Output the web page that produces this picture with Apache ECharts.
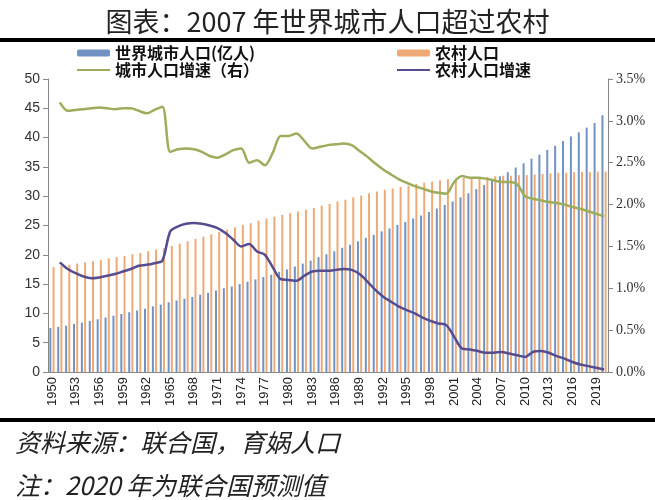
<!DOCTYPE html>
<html><head><meta charset="utf-8">
<script src="https://cdn.jsdelivr.net/npm/echarts@6/dist/echarts.min.js"></script>
<style>html,body{margin:0;padding:0;background:#fff}#c{width:655px;height:500px}</style>
</head><body><div id="c"></div>
<script>
const years = [];
for (let y = 1950; y <= 2020; y++) years.push(String(y));

const urbanPop = [
  7.5, 7.7, 7.9, 8.2, 8.4, 8.7, 9.0, 9.3, 9.6, 9.9,
  10.2, 10.5, 10.8, 11.2, 11.5, 11.9, 12.2, 12.5, 12.8, 13.2,
  13.5, 13.9, 14.3, 14.6, 15.0, 15.4, 15.8, 16.2, 16.6, 17.1,
  17.5, 18.0, 18.5, 19.0, 19.6, 20.1, 20.6, 21.2, 21.7, 22.3,
  22.9, 23.4, 24.0, 24.5, 25.1, 25.6, 26.2, 26.7, 27.3, 27.9,
  28.5, 29.1, 29.8, 30.5, 31.2, 31.9, 32.6, 33.4, 34.1, 34.9,
  35.6, 36.4, 37.1, 37.9, 38.6, 39.4, 40.2, 40.9, 41.7, 42.5,
  43.8
];
const ruralPop = [
  17.9, 18.1, 18.3, 18.5, 18.7, 18.9, 19.1, 19.4, 19.6, 19.8,
  20.1, 20.3, 20.6, 20.9, 21.1, 21.5, 21.9, 22.3, 22.7, 23.1,
  23.5, 23.9, 24.3, 24.7, 25.1, 25.4, 25.8, 26.2, 26.5, 26.8,
  27.1, 27.4, 27.7, 28.0, 28.4, 28.7, 29.1, 29.4, 29.8, 30.1,
  30.5, 30.8, 31.1, 31.3, 31.6, 31.8, 32.1, 32.3, 32.5, 32.7,
  32.9, 33.0, 33.1, 33.2, 33.3, 33.3, 33.4, 33.5, 33.5, 33.6,
  33.6, 33.7, 33.8, 33.9, 34.0, 34.0, 34.1, 34.1, 34.1, 34.2,
  34.2
];
const urbanGrowth = [
  null, 3.22, 3.12, 3.13, 3.14, 3.15, 3.16, 3.15, 3.14, 3.15,
  3.15, 3.12, 3.09, 3.13, 3.17, 2.63, 2.66, 2.67, 2.66, 2.63,
  2.58, 2.56, 2.60, 2.65, 2.67, 2.50, 2.53, 2.47, 2.62, 2.82,
  2.82, 2.85, 2.76, 2.67, 2.69, 2.71, 2.72, 2.73, 2.71, 2.64,
  2.57, 2.49, 2.42, 2.36, 2.30, 2.26, 2.22, 2.19, 2.16, 2.14,
  2.13, 2.27, 2.34, 2.32, 2.32, 2.31, 2.29, 2.27, 2.27, 2.24,
  2.10, 2.07, 2.05, 2.03, 2.02, 2.00, 1.97, 1.95, 1.92, 1.89,
  1.86
];
const ruralGrowth = [
  null, 1.31, 1.23, 1.18, 1.14, 1.12, 1.13, 1.15, 1.17, 1.20,
  1.23, 1.27, 1.28, 1.30, 1.33, 1.68, 1.74, 1.77, 1.78, 1.77,
  1.75, 1.72, 1.66, 1.58, 1.50, 1.53, 1.44, 1.40, 1.25, 1.11,
  1.10, 1.09, 1.15, 1.20, 1.21, 1.21, 1.22, 1.23, 1.22, 1.17,
  1.08, 0.98, 0.90, 0.84, 0.78, 0.74, 0.70, 0.65, 0.61, 0.58,
  0.56, 0.42, 0.28, 0.27, 0.25, 0.23, 0.23, 0.24, 0.22, 0.20,
  0.18, 0.24, 0.25, 0.23, 0.19, 0.16, 0.12, 0.09, 0.07, 0.05,
  0.03
];

const titleText = '图表：2007 年世界城市人口超过农村';
const sourceText = '资料来源：联合国，育娲人口';
const noteText = '注：2020 年为联合国预测值';
const seriesNames = ['世界城市人口(亿人)', '农村人口', '城市人口增速（右）', '农村人口增速'];

const cjk = '"Noto Sans CJK SC", sans-serif';
const legendText = { fontFamily: cjk, fontSize: 16, fontWeight: 'bold', color: '#111' };

const chart = echarts.init(document.getElementById('c'));
chart.setOption({
  animation: false,
  title: {
    text: titleText, left: 'center', top: 3,
    textStyle: { fontFamily: cjk, fontSize: 27, fontWeight: 'normal', color: '#222' }
  },
  graphic: [
    { type: 'rect', shape: { x: 0, y: 38, width: 655, height: 4 }, style: { fill: '#000' } },
    { type: 'rect', shape: { x: 0, y: 418, width: 655, height: 4 }, style: { fill: '#000' } },
    { type: 'text', left: 15, top: 430, style: { text: sourceText, font: 'italic 25px "Noto Sans CJK SC"', fill: '#222' } },
    { type: 'text', left: 15, top: 473, style: { text: noteText, font: 'italic 25px "Noto Sans CJK SC"', fill: '#222' } }
  ],
  legend: [
    { data: [seriesNames[0]], left: 77, top: 45, padding: 0, itemWidth: 33, itemHeight: 7, textStyle: legendText },
    { data: [seriesNames[1]], left: 397, top: 45, padding: 0, itemWidth: 33, itemHeight: 7, textStyle: legendText },
    { data: [{ name: seriesNames[2], icon: 'rect' }], left: 77, top: 62, padding: 0, itemWidth: 33, itemHeight: 2, textStyle: legendText },
    { data: [{ name: seriesNames[3], icon: 'rect' }], left: 397, top: 62, padding: 0, itemWidth: 33, itemHeight: 2, textStyle: legendText }
  ],
  grid: { left: 48, right: 47, top: 79, bottom: 128 },
  xAxis: {
    type: 'category', data: years, boundaryGap: true,
    axisLine: { lineStyle: { color: '#888', width: 1 } },
    axisTick: { interval: 0, length: 4, lineStyle: { color: '#888' } },
    axisLabel: { interval: 2, rotate: 90, margin: 5, fontFamily: '"Liberation Sans", Arial', fontSize: 13, color: '#222' }
  },
  yAxis: [
    {
      type: 'value', min: 0, max: 50, interval: 5,
      axisLine: { show: true, lineStyle: { color: '#888' } },
      axisTick: { show: true, length: 5, lineStyle: { color: '#888' } },
      splitLine: { show: false },
      axisLabel: { fontFamily: '"Liberation Sans", Arial', fontSize: 14, color: '#333', margin: 8 }
    },
    {
      type: 'value', min: 0, max: 3.5, interval: 0.5, position: 'right',
      axisLine: { show: true, lineStyle: { color: '#888' } },
      axisTick: { show: true, length: 5, lineStyle: { color: '#888' } },
      splitLine: { show: false },
      axisLabel: { fontFamily: '"Liberation Serif", serif', fontSize: 14, color: '#333', margin: 8,
        formatter: v => v.toFixed(1) + '%' }
    }
  ],
  series: [
    { name: seriesNames[0], type: 'bar', data: urbanPop, barWidth: 2, barGap: '60%',
      itemStyle: { color: '#7292c4' } },
    { name: seriesNames[1], type: 'bar', data: ruralPop, barWidth: 2, barGap: '60%',
      itemStyle: { color: '#eeaa76' } },
    { name: seriesNames[2], type: 'line', yAxisIndex: 1, data: urbanGrowth, smooth: 0.3, showSymbol: false, symbol: 'none',
      lineStyle: { color: '#9cad5c', width: 2.5 }, itemStyle: { color: '#9cad5c' } },
    { name: seriesNames[3], type: 'line', yAxisIndex: 1, data: ruralGrowth, smooth: 0.3, showSymbol: false, symbol: 'none',
      lineStyle: { color: '#574c8e', width: 2.5 }, itemStyle: { color: '#574c8e' } }
  ]
});
</script>
</body></html>
